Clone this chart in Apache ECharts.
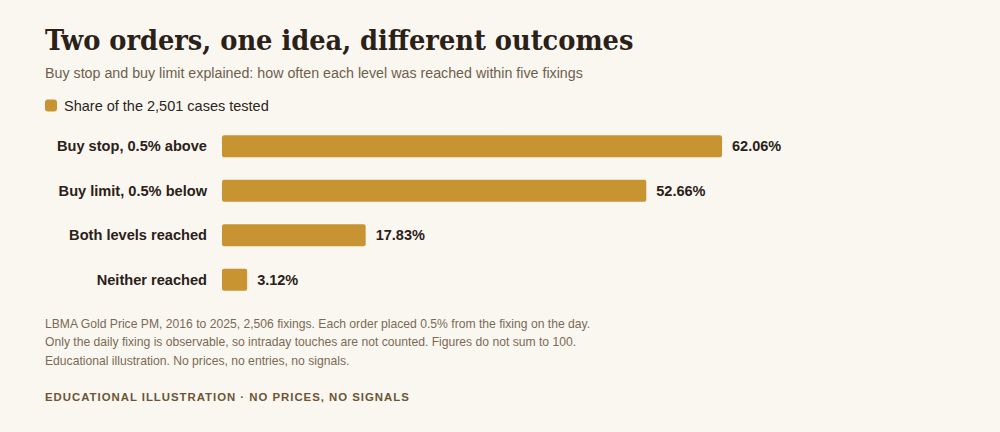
<!DOCTYPE html>
<html><head><meta charset="utf-8">
<script src="https://cdn.jsdelivr.net/npm/echarts@6/dist/echarts.min.js"></script>
<style>html,body{margin:0;padding:0;background:#faf7f1;}#c{width:1000px;height:432px;}</style>
</head><body><div id="c"></div>
<script>
const categories = ["Buy stop, 0.5% above", "Buy limit, 0.5% below", "Both levels reached", "Neither reached"];
const shares = [62.06, 52.66, 17.83, 3.12];
const seriesName = "Share of the 2,501 cases tested";
const titleText = "Two orders, one idea, different outcomes";
const subtitleText = "Buy stop and buy limit explained: how often each level was reached within five fixings";
const footnotes = [
  "LBMA Gold Price PM, 2016 to 2025, 2,506 fixings. Each order placed 0.5% from the fixing on the day.",
  "Only the daily fixing is observable, so intraday touches are not counted. Figures do not sum to 100.",
  "Educational illustration. No prices, no entries, no signals."
];
const footer = "EDUCATIONAL ILLUSTRATION · NO PRICES, NO SIGNALS";

const chart = echarts.init(document.getElementById('c'), null, { renderer: 'svg' });
chart.setOption({
  backgroundColor: '#faf7f1',
  animation: false,
  title: [{
    text: titleText, left: 45, top: 25, padding: 0,
    textStyle: { fontFamily: 'DejaVu Serif Condensed', fontWeight: 'bold', fontSize: 28.6, color: '#2a2118' }
  }, {
    text: subtitleText, left: 45, top: 66, padding: 0,
    textStyle: { fontFamily: 'Liberation Sans', fontWeight: 'normal', fontSize: 14.25, color: '#6e5f4c' }
  }],
  legend: {
    data: [seriesName], left: 45, top: 98, padding: 0, icon: 'roundRect', itemWidth: 12, itemHeight: 12, itemGap: 6,
    textStyle: { fontFamily: 'Liberation Sans', fontSize: 14.5, color: '#2a2520', padding: [2, 0, 0, 2] }
  },
  grid: { left: 222, top: 124, width: 564, height: 178, containLabel: false },
  xAxis: { type: 'value', min: 0, max: 70, show: false },
  yAxis: {
    type: 'category', data: categories, inverse: true,
    axisLine: { show: false }, axisTick: { show: false },
    axisLabel: { margin: 15, padding: [5, 0, 0, 0], fontFamily: 'Liberation Sans', fontWeight: 'bold', fontSize: 14.6, color: '#2a2118' }
  },
  series: [{
    name: seriesName, type: 'bar', data: shares, barWidth: 22,
    itemStyle: { color: '#c89432', borderRadius: 2 },
    label: { show: true, position: 'right', distance: 10, padding: [5, 0, 0, 0], formatter: p => p.value.toFixed(2) + '%',
      fontFamily: 'Liberation Sans', fontWeight: 'bold', fontSize: 14.5, color: '#2a2118' }
  }],
  graphic: [
    ...footnotes.map((t, i) => ({ type: 'text', left: 45, top: 317.5 + i * 18.5,
      style: { text: t, fontFamily: 'Liberation Sans', fontSize: 12.15, fill: '#7a6a55' } })),
    { type: 'text', left: 45, top: 391.5, style: { text: footer, fontFamily: 'Liberation Sans', fontWeight: 'bold', fontSize: 11.4, fill: '#6b5535' } }
  ]
});

function spaceFooter() {
  const cv = document.createElement('canvas').getContext('2d');
  cv.font = 'bold 11.4px "Liberation Sans"';
  const w = cv.measureText(footer).width;
  const ls = Math.max(0, (364 - w) / (footer.length - 1));
  document.querySelectorAll('#c text').forEach(el => {
    if (el.textContent === footer) el.setAttribute('letter-spacing', ls.toFixed(2) + 'px');
  });
}
chart.getZr().refreshImmediately();
spaceFooter();
chart.on('finished', spaceFooter);
</script></body></html>
